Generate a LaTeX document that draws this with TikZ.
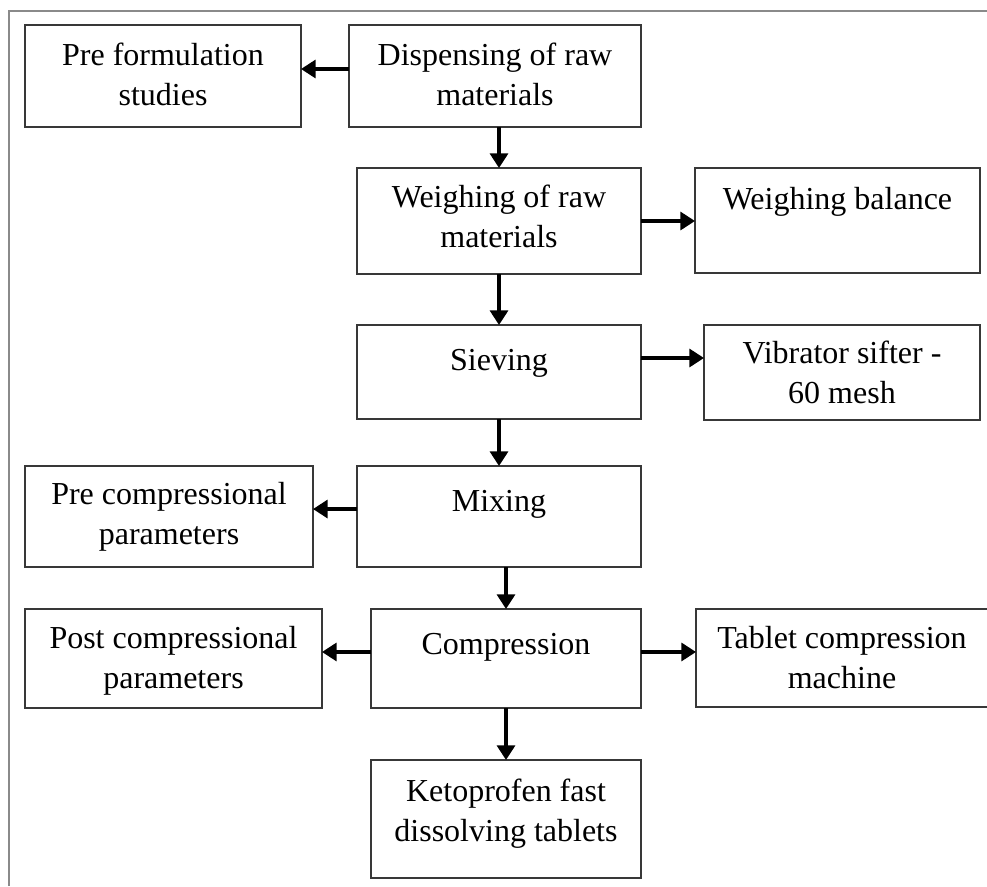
\documentclass[tikz,border=0pt]{standalone}
\usepackage{fontspec}
\setmainfont{Liberation Serif}
\usetikzlibrary{arrows.meta,calc,fit}
\definecolor{boxgray}{HTML}{383838}
\definecolor{framegray}{HTML}{8A8A8A}
\begin{document}
\begin{tikzpicture}[x=0.75pt,y=-0.75pt,
  box/.style={draw=boxgray, line width=1.5pt, inner sep=0pt, outer sep=0pt},
  lbl/.style={anchor=north, inner sep=0pt, align=center, text=black,
    font=\fontsize{24}{30}\selectfont, execute at begin node=\strut},
  arr/.style={-{Triangle[width=13.5pt,length=11pt]}, line width=2.5pt, black}]
\useasboundingbox (0,0) rectangle (987,886);
% outer frame (cropped)
\draw[framegray, line width=1pt] (9,886) -- (9,11) -- (987,11);
% boxes
\node[box, fit={(25,25) (301,127)}] (pre) {};
\node[box, fit={(349,25) (641,127)}] (disp) {};
\node[box, fit={(357,168) (641,274)}] (weigh) {};
\node[box, fit={(695,168) (980,273)}] (bal) {};
\node[box, fit={(357,325) (641,419)}] (sieve) {};
\node[box, fit={(704,325) (980,420)}] (vib) {};
\node[box, fit={(25,466) (313,567)}] (precomp) {};
\node[box, fit={(357,466) (641,567)}] (mix) {};
\node[box, fit={(25,609) (322,708)}] (post) {};
\node[box, fit={(371,609) (641,708)}] (comp) {};
\node[box, fit={(696,609) (1000,707)}] (tab) {};
\node[box, fit={(371,760) (641,878)}] (keto) {};
% labels
\node[lbl] (tpre) at ($(pre.north)+(0,18)$) {Pre formulation\\studies};
\node[lbl] (tdisp) at ($(disp.north)+(0,18)$) {Dispensing of raw\\materials};
\node[lbl] (tweigh) at ($(weigh.north)+(0,17)$) {Weighing of raw\\materials};
\node[lbl] (tbal) at ($(bal.north)+(0,13)$) {Weighing balance};
\node[lbl] (tsieve) at ($(sieve.north)+(0,17)$) {Sieving};
\node[lbl] (tvib) at ($(vib.north)+(0,16)$) {Vibrator sifter -\\60 mesh};
\node[lbl] (tprecomp) at ($(precomp.north)+(0,16)$) {Pre compressional\\parameters};
\node[lbl] (tmix) at ($(mix.north)+(0,17)$) {Mixing};
\node[lbl] (tpost) at ($(post.north)+(0,17)$) {Post compressional\\parameters};
\node[lbl] (tcomp) at ($(comp.north)+(0,17)$) {Compression};
\node[lbl] (ttab) at ($(tab.north west)+(146,17)$) {Tablet compression\\machine};
\node[lbl] (tketo) at ($(keto.north)+(0,19)$) {Ketoprofen fast\\dissolving tablets};
% arrow start points
\coordinate (dispL) at ([yshift=5.25pt]disp.west);
\coordinate (sieveR) at ([yshift=10.5pt]sieve.east);
\coordinate (mixL) at ([yshift=5.6pt]mix.west);
\coordinate (compL) at ([yshift=4.9pt]comp.west);
\coordinate (compR) at ([yshift=4.9pt]comp.east);
% connectors
\draw[arr] (dispL) -- (pre.east |- dispL);
\draw[arr] (weigh.north |- disp.south) -- (weigh.north);
\draw[arr] (weigh.east) -- (bal.west |- weigh.east);
\draw[arr] (weigh.south) -- (sieve.north);
\draw[arr] (sieveR) -- (vib.west |- sieveR);
\draw[arr] (sieve.south) -- (mix.north);
\draw[arr] (mixL) -- (precomp.east |- mixL);
\draw[arr] (comp.north |- mix.south) -- (comp.north);
\draw[arr] (compL) -- (post.east |- compL);
\draw[arr] (compR) -- (tab.west |- compR);
\draw[arr] (comp.south) -- (keto.north);
\end{tikzpicture}
\end{document}
